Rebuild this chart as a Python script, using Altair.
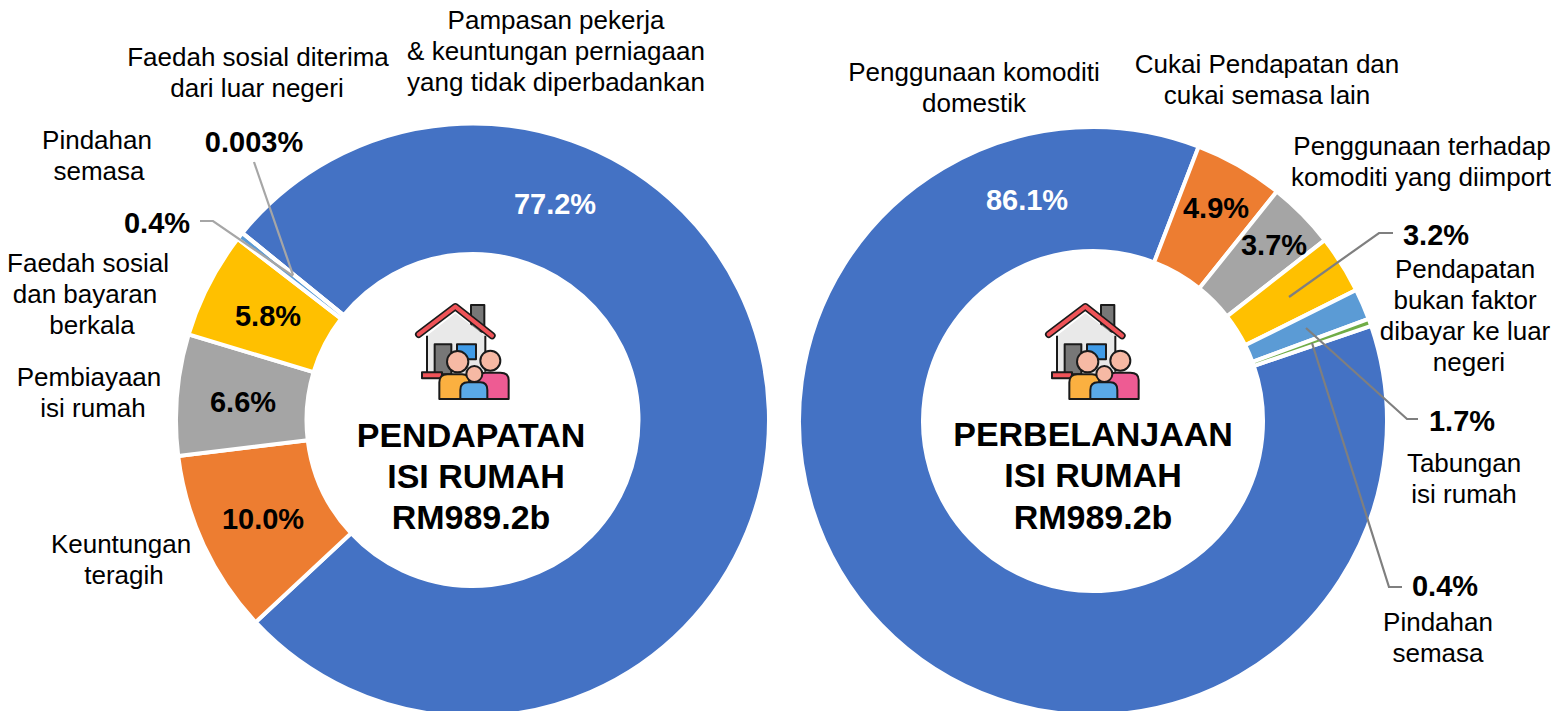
import base64, math
import altair as alt
import pandas as pd

# ---- data -------------------------------------------------------------
income_names = ["Pampasan pekerja", "Keuntungan teragih", "Pembiayaan isi rumah",
                "Faedah sosial", "Pindahan semasa", "Faedah sosial luar negeri"]
income_values = [77.2, 10.0, 6.6, 5.8, 0.4, 0.003]
spend_names = ["Penggunaan komoditi domestik", "Cukai", "Import", "Pendapatan bukan faktor",
               "Tabungan", "Pindahan semasa"]
spend_values = [86.1, 4.9, 3.7, 3.2, 1.7, 0.4]
palette = ["#4472C4", "#ED7D31", "#A5A5A5", "#FFC000", "#5B9BD5", "#70AD47"]

plain_labels = [
    "Pampasan pekerja", "& keuntungan perniagaan", "yang tidak diperbadankan",
    "Faedah sosial diterima", "dari luar negeri", "Pindahan", "semasa",
    "Faedah sosial", "dan bayaran", "berkala", "Pembiayaan", "isi rumah",
    "Keuntungan", "teragih",
    "Penggunaan komoditi", "domestik", "Cukai Pendapatan dan", "cukai semasa lain",
    "Penggunaan terhadap", "komoditi yang diimport", "Pendapatan", "bukan faktor",
    "dibayar ke luar", "negeri", "Tabungan", "isi rumah", "Pindahan", "semasa",
]
bold_labels = ["0.003%", "0.4%", "5.8%", "6.6%", "10.0%", "4.9%", "3.7%", "3.2%", "1.7%", "0.4%"]
white_labels = ["77.2%", "86.1%"]
centre_labels = ["PENDAPATAN", "ISI RUMAH", "RM989.2b", "PERBELANJAAN", "ISI RUMAH", "RM989.2b"]

# ---- layout (page pixels) ------------------------------------------------
M = 8
W, H = 1543, 703
plain_xy = [(556, 21), (556, 52), (556, 83), (258, 58), (257, 89), (97, 141), (99, 172),
            (88, 264), (85, 295), (92, 326), (89, 378), (93, 409), (121, 545), (124, 576),
            (974, 73), (974, 104), (1267, 65), (1267, 96), (1422, 147), (1421, 178),
            (1465, 270), (1465, 301), (1465, 332), (1469, 363), (1464, 464), (1464, 495),
            (1438, 623), (1438, 654)]
bold_xy = [(254, 143), (157, 224), (268, 317), (243, 403), (263, 520),
           (1216, 209), (1274, 246), (1436, 236), (1462, 422), (1445, 587)]
white_xy = [(555, 205), (1027, 201)]
centre_xy = [(471, 437), (476, 478), (471, 519), (1093, 436), (1093, 477), (1093, 519)]
leaders = [
    ("#A6A6A6", [(254, 162), (293, 275)]),
    ("#A6A6A6", [(200, 221), (213, 221), (293, 276)]),
    ("#7F7F7F", [(1393, 233), (1379, 233), (1289, 297)]),
    ("#7F7F7F", [(1418, 419), (1407, 419), (1306, 328)]),
    ("#7F7F7F", [(1402, 587), (1389, 587), (1312, 343)]),
]


def donut(names, values, cx, cy, r0, r1, start_deg):
    df = pd.DataFrame({"name": names, "v": values, "i": range(len(values))})
    a = math.radians(start_deg)
    return alt.Chart(df).mark_arc(innerRadius=r0, outerRadius=r1, stroke="white", strokeWidth=4).encode(
        x=alt.value(cx - M), y=alt.value(cy - M),
        theta=alt.Theta("v:Q", stack=True,
                        scale=alt.Scale(domain=[0, sum(values)], range=[a, a + 2 * math.pi])),
        color=alt.Color("name:N", legend=None, sort=None,
                        scale=alt.Scale(domain=names, range=palette)),
        order=alt.Order("i:Q"),
    )


def text_layer(labels, xy, size, color="black", weight="normal"):
    df = pd.DataFrame({"t": labels, "x": [p[0] - M for p in xy], "y": [p[1] - M for p in xy],
                       "k": range(len(labels))})
    return alt.Chart(df).mark_text(font="Liberation Sans", fontSize=size, color=color, fontWeight=weight,
                                   align="center", baseline="middle").encode(
        x=alt.X("x:Q", scale=None), y=alt.Y("y:Q", scale=None), text="t:N", detail="k:N")


rows = []
for n, (col, pts) in enumerate(leaders):
    for j, (px, py) in enumerate(pts):
        rows.append({"n": n, "j": j, "x": px - M, "y": py - M, "c": col})
lines = alt.Chart(pd.DataFrame(rows)).mark_line(strokeWidth=2.2).encode(
    x=alt.X("x:Q", scale=None), y=alt.Y("y:Q", scale=None), detail="n:N", order="j:Q",
    color=alt.Color("c:N", scale=None))

icon_svg = """<svg xmlns='http://www.w3.org/2000/svg' viewBox='0 0 360 345' width='360' height='345'>
<g stroke='#1a1a1a' stroke-width='6' stroke-linejoin='round'>
<rect x='207' y='30' width='40' height='80' fill='#777'/>
<polygon points='75,122 160,55 250,122 250,240 75,240' fill='#e9e9e9' stroke='none'/>
<path d='M75 122V235M250 122V230' fill='none'/>
<rect x='98' y='148' width='50' height='90' fill='#777'/>
<rect x='165' y='148' width='57' height='45' fill='#3f9be8'/>
<rect x='60' y='232' width='60' height='18' fill='#ef5358'/>
<path d='M50 118 160 35 270 122' fill='none' stroke-width='22' stroke-linecap='round'/>
<path d='M50 118 160 35 270 122' fill='none' stroke='#ef5358' stroke-width='12' stroke-linecap='round'/>
<path d='M225 312V255Q225 233 250 233H295Q320 233 320 255V312Z' fill='#ee5b93'/>
<circle cx='265' cy='197' r='30' fill='#f6b9a4'/>
<path d='M112 312V262Q112 238 136 238H180Q202 238 202 262V312Z' fill='#fbb040'/>
<circle cx='167' cy='200' r='32' fill='#f6b9a4'/>
<path d='M175 312V285Q175 262 198 262H235Q256 262 256 285V312Z' fill='#5aa9e6'/>
<circle cx='217' cy='237' r='24' fill='#f6b9a4'/>
</g></svg>"""
icon_url = "data:image/svg+xml;base64," + base64.b64encode(icon_svg.encode()).decode()
icons = alt.Chart(pd.DataFrame({"x": [402 - M, 1032 - M], "y": [295 - M, 295 - M], "u": [icon_url] * 2})).mark_image(
    width=120, height=115, align="left", baseline="top").encode(
    x=alt.X("x:Q", scale=None), y=alt.Y("y:Q", scale=None), url="u:N")

left = donut(income_names, income_values, 472.5, 420, 166, 296.5, -50.9)
right = donut(spend_names, spend_values, 1093, 421, 170, 294, 71.1)

chart = alt.layer(
    left, right, lines, icons,
    text_layer(plain_labels, plain_xy, 26),
    text_layer(bold_labels, bold_xy, 29, weight="bold"),
    text_layer(white_labels, white_xy, 29, color="white", weight="bold"),
    text_layer(centre_labels, centre_xy, 34, weight="bold"),
).resolve_scale(theta="independent", color="independent", x="independent", y="independent").properties(
    width=W, height=H, padding=0, autosize=alt.AutoSizeParams(type="none")
).configure_view(stroke=None).configure_axis(disable=True)

chart.save("out.html", embed_options={"renderer": "svg", "actions": False})
